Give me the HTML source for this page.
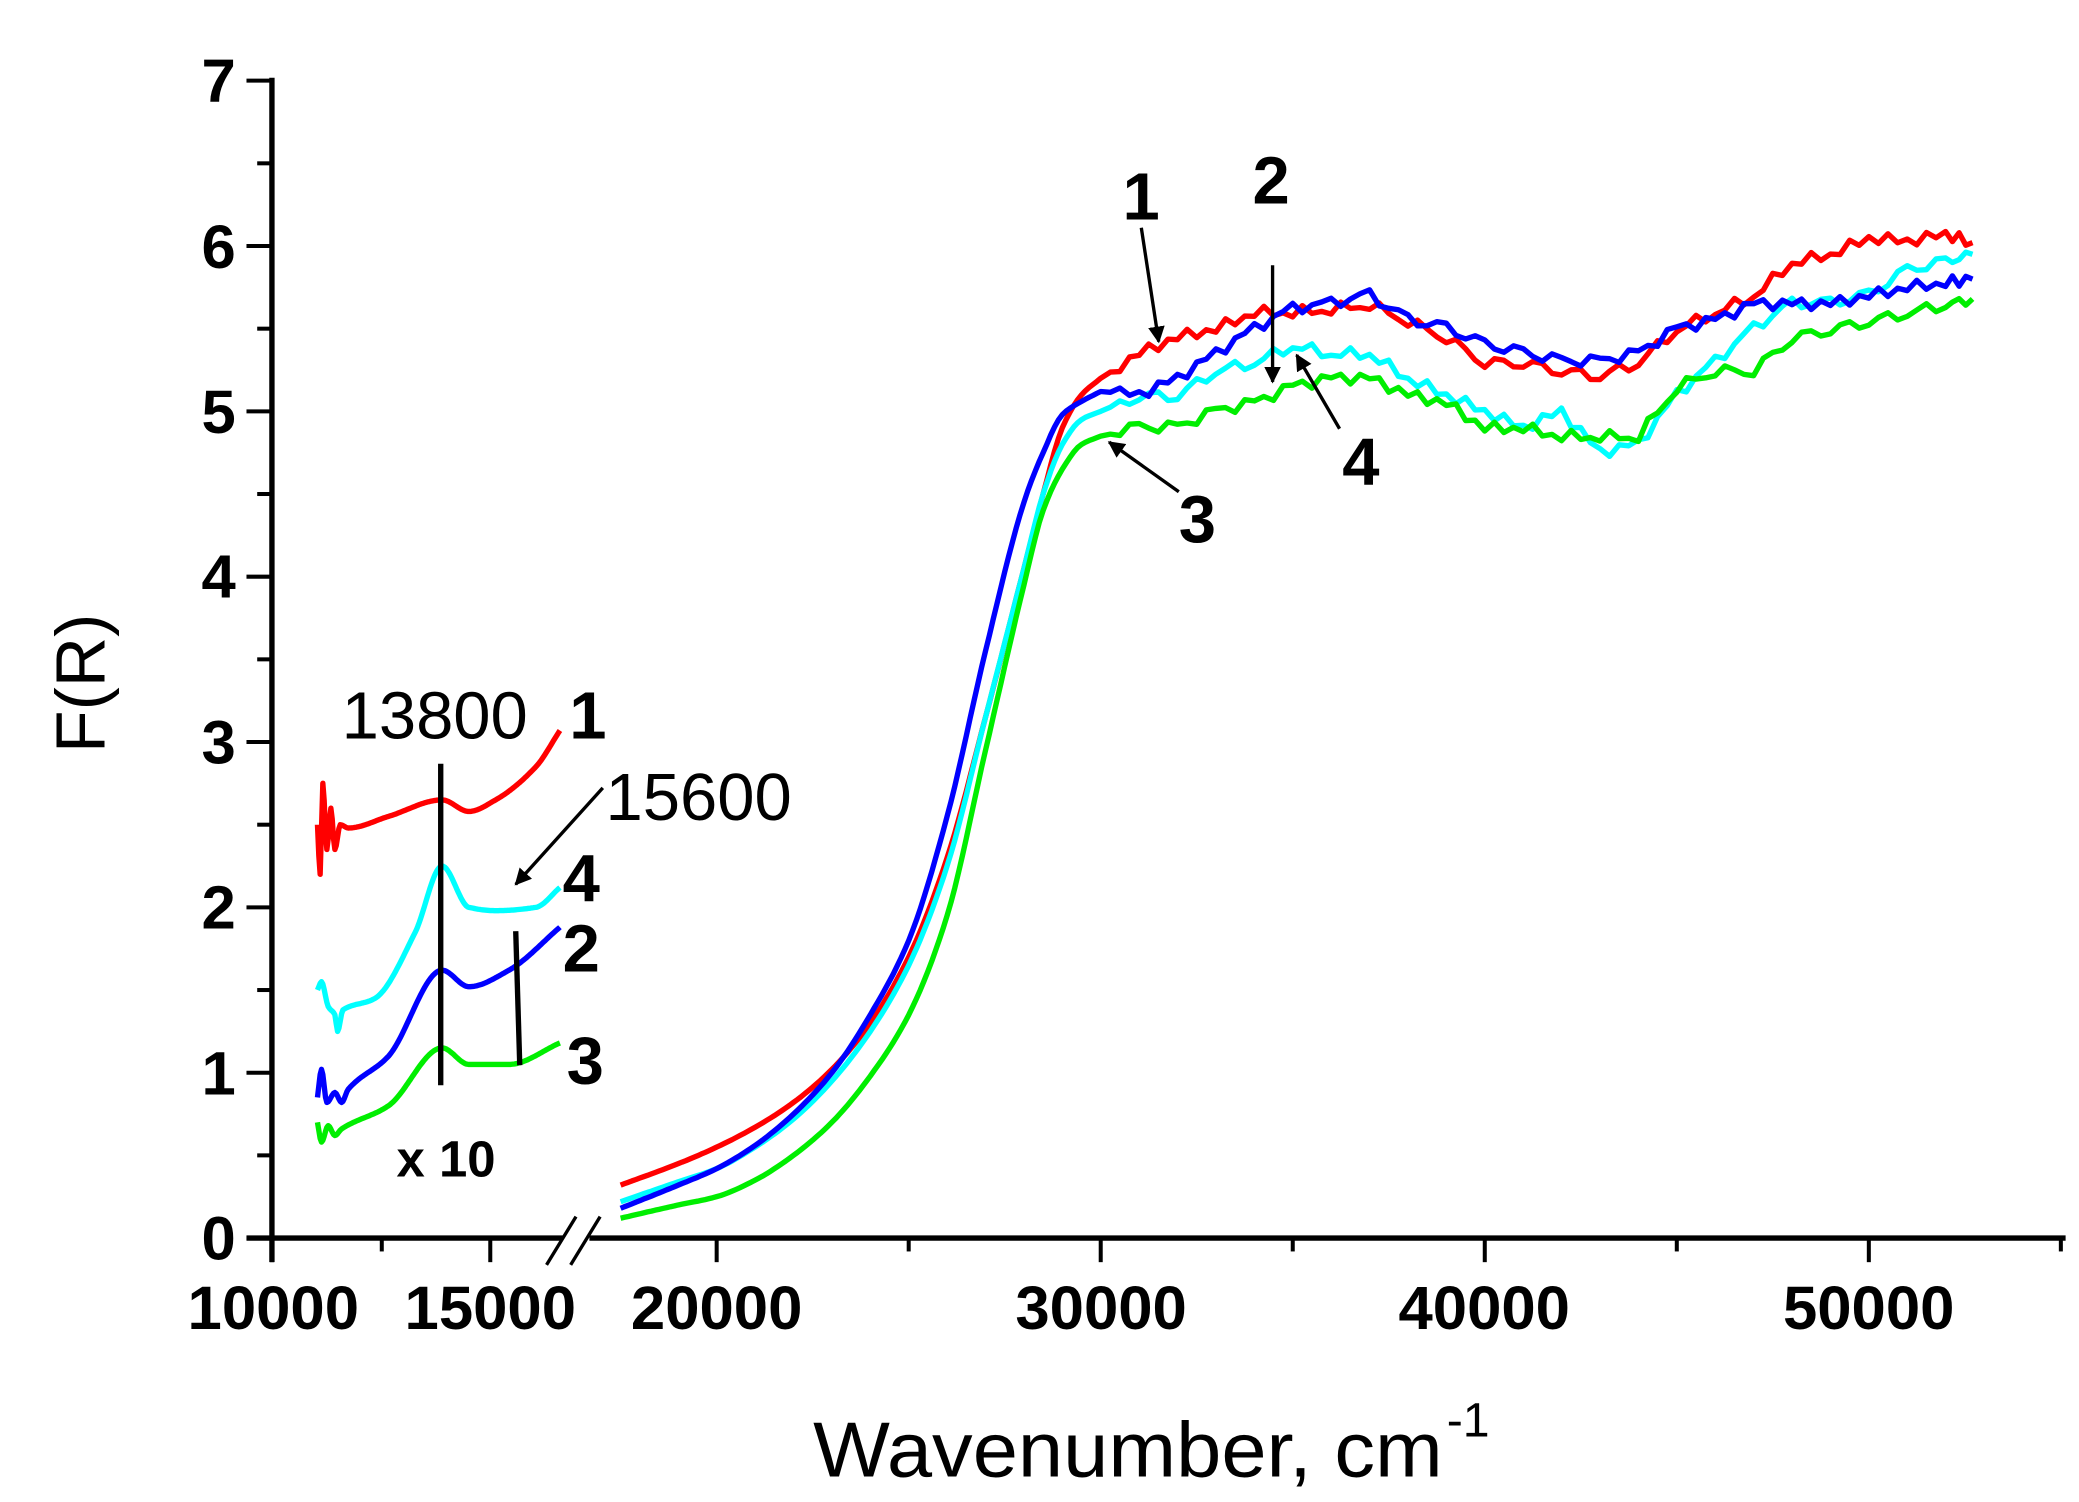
<!DOCTYPE html>
<html><head><meta charset="utf-8"><style>
html,body{margin:0;padding:0;background:#fff;}
svg{display:block;}
text{font-family:"Liberation Sans",Arial,sans-serif;fill:#000;}
.b{font-weight:bold;}
</style></head><body>
<svg id="s" width="2079" height="1502" viewBox="0 0 1552 1121" preserveAspectRatio="none" xmlns="http://www.w3.org/2000/svg">
<defs><marker id="ah" viewBox="0 0 10 10" refX="9" refY="5" markerWidth="5" markerHeight="5" orient="auto"><path d="M0,0 L10,5 L0,10 z" fill="#000"/></marker></defs>
<g stroke="#000" stroke-width="4" fill="none">
<line x1="203" y1="58" x2="203" y2="942"/>
<line x1="184" y1="924" x2="420" y2="924"/>
<line x1="440" y1="924" x2="1542" y2="924"/>
</g>
<g stroke="#000" stroke-width="3" id="ticks"></g>
<g stroke="#000" stroke-width="2.5">
<line x1="408" y1="944" x2="430" y2="908"/><line x1="426" y1="944" x2="448" y2="908"/>
</g>
<g class="b" font-size="46" text-anchor="end">
<text x="176" y="940">0</text><text x="176" y="817">1</text><text x="176" y="693">2</text>
<text x="176" y="570">3</text><text x="176" y="446">4</text><text x="176" y="323">5</text>
<text x="176" y="200">6</text><text x="176" y="76">7</text>
</g>
<g class="b" font-size="46">
<text x="140" y="992" textLength="128" lengthAdjust="spacingAndGlyphs">10000</text>
<text x="302" y="992" textLength="128" lengthAdjust="spacingAndGlyphs">15000</text>
<text x="471" y="992" textLength="128" lengthAdjust="spacingAndGlyphs">20000</text>
<text x="758" y="992" textLength="128" lengthAdjust="spacingAndGlyphs">30000</text>
<text x="1044" y="992" textLength="128" lengthAdjust="spacingAndGlyphs">40000</text>
<text x="1331" y="992" textLength="128" lengthAdjust="spacingAndGlyphs">50000</text>
</g>
<text x="607" y="1102" font-size="58" textLength="470" lengthAdjust="spacingAndGlyphs">Wavenumber, cm</text>
<text x="1080" y="1072" font-size="36">-1</text>
<text transform="translate(78,510) rotate(-90)" font-size="52" text-anchor="middle">F(R)</text>
<g id="curves" fill="none" stroke-width="4" stroke-linejoin="round"></g>
<g stroke="#000" stroke-width="4">
<line x1="329" y1="570" x2="329" y2="810"/>
<line x1="385" y1="695" x2="388" y2="795"/>
</g>
<g stroke="#000" stroke-width="2.5" marker-end="url(#ah)">
<line x1="450" y1="588" x2="385" y2="660"/>
<line x1="852" y1="170" x2="865" y2="255"/>
<line x1="950" y1="198" x2="950" y2="285"/>
<line x1="1000" y1="320" x2="968" y2="265"/>
<line x1="880" y1="367" x2="828" y2="330"/>
</g>
<text x="255" y="551" font-size="50">13800</text>
<text x="452" y="612" font-size="50">15600</text>
<g class="b" font-size="50">
<text x="425" y="551">1</text><text x="420" y="673">4</text><text x="420" y="725">2</text><text x="423" y="809">3</text>
<text x="838" y="164">1</text><text x="935" y="152">2</text><text x="1002" y="362">4</text><text x="880" y="405">3</text>
</g>
<text x="296" y="878" class="b" font-size="38">x 10</text>
</svg>
<script>
var NS="http://www.w3.org/2000/svg";
function Y(v){return 924-123.4*v;}
function XR(w){return 535+(w-20000)*0.02867;}
var t=document.getElementById("ticks");
function tk(x,l){var e=document.createElementNS(NS,"line");e.setAttribute("x1",x);e.setAttribute("x2",x);e.setAttribute("y1",924);e.setAttribute("y2",924+l);t.appendChild(e);}
for(var i=0;i<=14;i++){var e=document.createElementNS(NS,"line");var y=Y(i/2);e.setAttribute("x1",i%2?192:184);e.setAttribute("x2",203);e.setAttribute("y1",y);e.setAttribute("y2",y);t.appendChild(e);}
tk(203,18);tk(285,10);tk(366,18);
for(var w=20000;w<=55000;w+=5000)tk(XR(w),w%10000?10:18);
var HX=[17500,19000,20000,21000,22000,23000,24000,25000,26000,27000,28000,28500,29000,29500,30000];
var tail=[30000,31000,32000,33000,34000,35000,36000,37000,38000,39000,40000,41000,42000,43000,44000,45000,46000,47000,48000,49000,50000,51000,52000,52700];
var S={
"#ff0000":{h:[0.32,0.45,0.55,0.67,0.82,1.02,1.3,1.7,2.3,3.15,4.05,4.5,4.9,5.1,5.2],t:[5.2,5.35,5.45,5.5,5.6,5.6,5.62,5.65,5.55,5.45,5.3,5.3,5.25,5.22,5.3,5.5,5.6,5.7,5.9,5.95,6.05,6.03,6.07,6.02]},
"#00ffff":{h:[0.22,0.34,0.42,0.55,0.72,0.95,1.25,1.65,2.25,3.15,4.05,4.5,4.8,4.95,5.0],t:[5.0,5.1,5.1,5.25,5.3,5.4,5.35,5.35,5.2,5.1,5.0,4.9,5.0,4.75,4.8,5.1,5.3,5.5,5.65,5.65,5.7,5.85,5.9,5.95]},
"#0000ff":{h:[0.18,0.32,0.42,0.56,0.75,1.0,1.35,1.8,2.55,3.55,4.45,4.75,4.98,5.06,5.12],t:[5.12,5.1,5.2,5.35,5.5,5.62,5.65,5.7,5.55,5.5,5.4,5.35,5.3,5.3,5.35,5.5,5.55,5.65,5.65,5.65,5.7,5.75,5.78,5.8]},
"#00ee00":{h:[0.12,0.2,0.25,0.35,0.5,0.7,0.98,1.35,1.95,2.95,3.95,4.4,4.65,4.8,4.85],t:[4.85,4.9,4.9,5.0,5.05,5.15,5.2,5.2,5.1,5.05,4.9,4.9,4.85,4.85,4.85,5.15,5.25,5.25,5.45,5.5,5.55,5.6,5.65,5.68]}};
var L={
"#ff0000":[[237,2.5],[239,2.2],[241,2.75],[244,2.35],[247,2.6],[250,2.35],[254,2.5],[260,2.48],[290,2.55],[330,2.65],[350,2.58],[370,2.65],[400,2.85],[418,3.07]],
"#00ffff":[[237,1.5],[240,1.55],[245,1.4],[250,1.35],[252,1.25],[256,1.38],[280,1.45],[310,1.85],[330,2.25],[350,2.0],[370,1.98],[400,2.0],[418,2.12]],
"#0000ff":[[237,0.85],[240,1.02],[244,0.82],[250,0.88],[255,0.82],[260,0.9],[290,1.1],[330,1.62],[350,1.52],[380,1.62],[418,1.88]],
"#00ee00":[[237,0.7],[240,0.58],[245,0.68],[250,0.62],[255,0.66],[290,0.8],[330,1.15],[350,1.05],[380,1.05],[418,1.18]]};
var g=document.getElementById("curves");
function add(d,c){var p=document.createElementNS(NS,"path");p.setAttribute("d",d);p.setAttribute("stroke",c);g.appendChild(p);}
function mono(xs,ys,step){var n=xs.length,d=[],m=[];for(var i=0;i<n-1;i++)d.push((ys[i+1]-ys[i])/(xs[i+1]-xs[i]));
 m[0]=d[0];m[n-1]=d[n-2];for(i=1;i<n-1;i++){m[i]=(d[i-1]*d[i]<=0)?0:2/(1/d[i-1]+1/d[i]);}
 var out=[];for(i=0;i<n-1;i++){var h=xs[i+1]-xs[i];for(var x=xs[i];x<xs[i+1];x+=step){var s=(x-xs[i])/h,s2=s*s,s3=s2*s;
  out.push([x,(2*s3-3*s2+1)*ys[i]+(s3-2*s2+s)*h*m[i]+(-2*s3+3*s2)*ys[i+1]+(s3-s2)*h*m[i+1]]);}}
 out.push([xs[n-1],ys[n-1]]);return out;}
var ci=0;
for(var c in S){ci++;var d="";
 mono(HX,S[c].h,100).forEach(function(q,i){d+=(i?"L":"M")+XR(q[0]).toFixed(1)+","+Y(q[1]).toFixed(1);});
 for(var i=0;i<tail.length-1;i++){for(var k=0;k<4;k++){var f=k/4;var w=tail[i]+(tail[i+1]-tail[i])*f;var val=S[c].t[i]+(S[c].t[i+1]-S[c].t[i])*f;if(i>0||k>1)val+=0.035*Math.sin(w*0.0033+ci*1.7)*((i+k)%2?1:-1);d+="L"+XR(w).toFixed(1)+","+Y(val).toFixed(1);}}
 d+="L"+XR(52700).toFixed(1)+","+Y(S[c].t[S[c].t.length-1]).toFixed(1);
 add(d,c);
 var a=L[c],xs=a.map(function(q){return q[0];}),ys=a.map(function(q){return q[1];});
 var d2="";mono(xs,ys,1).forEach(function(q,i){d2+=(i?"L":"M")+q[0].toFixed(1)+","+Y(q[1]).toFixed(1);});add(d2,c);}
</script>
</body></html>
